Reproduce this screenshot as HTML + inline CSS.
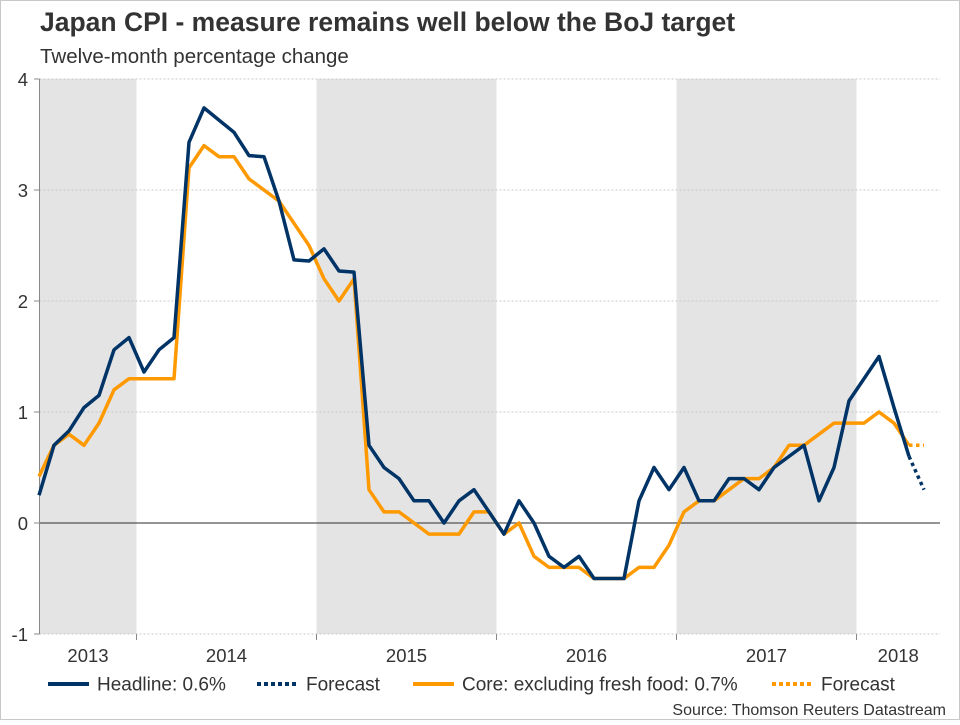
<!DOCTYPE html>
<html><head><meta charset="utf-8">
<style>
html,body{margin:0;padding:0;background:#fff;}
body{width:960px;height:720px;overflow:hidden;font-family:"Liberation Sans",Arial,sans-serif;}
</style></head>
<body>
<svg id="chart" width="960" height="720" xmlns="http://www.w3.org/2000/svg" font-family="Liberation Sans, Arial, sans-serif">
<rect x="0.5" y="0.5" width="959" height="719" fill="#fff" stroke="#c8c8c8"/>
<text x="40" y="31" font-size="26.5" font-weight="bold" fill="#333">Japan CPI - measure remains well below the BoJ target</text>
<text x="40" y="63" font-size="20.5" fill="#333">Twelve-month percentage change</text>
<g id="bands"></g>
<g id="grid"></g>
<g id="axes"></g>
<g id="series"></g>
<g id="legend">
  <line x1="48" y1="684" x2="89" y2="684" stroke="#003366" stroke-width="4"/>
  <text x="97" y="690.5" font-size="19" fill="#333">Headline: 0.6%</text>
  <line x1="257" y1="684" x2="298" y2="684" stroke="#003366" stroke-width="4" stroke-dasharray="4,3"/>
  <text x="306" y="690.5" font-size="19" fill="#333">Forecast</text>
  <line x1="413" y1="684" x2="454" y2="684" stroke="#ff9900" stroke-width="4"/>
  <text x="462" y="690.5" font-size="19" fill="#333">Core: excluding fresh food: 0.7%</text>
  <line x1="772" y1="684" x2="813" y2="684" stroke="#ff9900" stroke-width="4" stroke-dasharray="4,3"/>
  <text x="821" y="690.5" font-size="19" fill="#333">Forecast</text>
</g>
<text x="946" y="715" font-size="16" fill="#333" text-anchor="end">Source: Thomson Reuters Datastream</text>
</svg>
<script>
// Monthly data starting Jun 2013
const headline = [0.25,0.7,0.83,1.04,1.15,1.56,1.67,1.36,1.56,1.67,3.43,3.74,3.63,3.52,3.31,3.3,2.9,2.37,2.36,2.47,2.27,2.26,0.7,0.5,0.4,0.2,0.2,0.0,0.2,0.3,0.1,-0.1,0.2,0.0,-0.3,-0.4,-0.3,-0.5,-0.5,-0.5,0.2,0.5,0.3,0.5,0.2,0.2,0.4,0.4,0.3,0.5,0.6,0.7,0.2,0.5,1.1,1.3,1.5,1.04,0.6];
const headlineForecast = [0.6,0.3];
const core = [0.42,0.7,0.8,0.7,0.9,1.2,1.3,1.3,1.3,1.3,3.2,3.4,3.3,3.3,3.1,3.0,2.9,2.7,2.5,2.2,2.0,2.2,0.3,0.1,0.1,0.0,-0.1,-0.1,-0.1,0.1,0.1,-0.1,0.0,-0.3,-0.4,-0.4,-0.4,-0.5,-0.5,-0.5,-0.4,-0.4,-0.2,0.1,0.2,0.2,0.3,0.4,0.4,0.5,0.7,0.7,0.8,0.9,0.9,0.9,1.0,0.9,0.7];
const coreForecast = [0.7,0.7];
const yTicks = [4,3,2,1,0,-1];
const years = ["2013","2014","2015","2016","2017","2018"];
const yearStartIdx = [-5,7,19,31,43,55]; // month index of January (Jun 2013 = 0)

const NS="http://www.w3.org/2000/svg";
const X0=39.5, XR=940, MW=15;
function xm(i){return 39 + MW*i;}
function yOf(v){return 523 - v*111;}
function mk(tag,attrs,parent){const e=document.createElementNS(NS,tag);for(const k in attrs)e.setAttribute(k,attrs[k]);parent.appendChild(e);return e;}
const bands=document.getElementById('bands'),grid=document.getElementById('grid'),axes=document.getElementById('axes'),series=document.getElementById('series');
years.forEach((yr,k)=>{
  const xs=Math.max(X0, xm(yearStartIdx[k])-7.5);
  const xe=Math.min(XR, xm(yearStartIdx[k]+12)-7.5);
  if(k%2===0){
    const r=mk('rect',{x:xs,y:yOf(4),width:xe-xs,height:yOf(-1)-yOf(4),fill:'#e4e4e4'},bands);
    
    
  }
  const t=mk('text',{x:(xs+xe)/2,y:662,'font-size':18.5,fill:'#333','text-anchor':'middle'},axes);
  t.textContent=yr;
  
  
  if(k>0){
    const tk=mk('line',{x1:xs,x2:xs,y1:yOf(-1),y2:yOf(-1)+6,stroke:'#888','stroke-width':1},axes);
    
    
  }
});
yTicks.forEach(v=>{
  const y=yOf(v);
  const g=mk('line',{x1:X0,x2:XR,y1:y,y2:y,stroke:v===0?'#555':'#c8c8c8','stroke-width':v===0?1.2:1,'stroke-dasharray':v===0?'none':'2,2'},grid);
  
  
  const tk=mk('line',{x1:34,x2:X0,y1:y,y2:y,stroke:'#888'},axes);
  
  
  const t=mk('text',{x:28,y:y+7,'font-size':18.5,fill:'#333','text-anchor':'end'},axes);
  t.textContent=String(v);
  
  
});
const ax=mk('line',{x1:X0,x2:X0,y1:yOf(4),y2:yOf(-1),stroke:'#888'},axes);


function pts(arr,off){return arr.map((v,i)=>xm(i+off).toFixed(1)+','+yOf(v).toFixed(1)).join(' ');}
const cl=mk('polyline',{points:pts(core,0),fill:'none',stroke:'#ff9900','stroke-width':3.5,'stroke-linejoin':'round'},series);


const cf=mk('polyline',{points:pts(coreForecast,core.length-1),fill:'none',stroke:'#ff9900','stroke-width':3.5,'stroke-dasharray':'3.5,3.5'},series);


const hl=mk('polyline',{points:pts(headline,0),fill:'none',stroke:'#003366','stroke-width':3.5,'stroke-linejoin':'round'},series);


const hf=mk('polyline',{points:pts(headlineForecast,headline.length-1),fill:'none',stroke:'#003366','stroke-width':3.5,'stroke-dasharray':'3.5,3.5'},series);


</script>
</body></html>
